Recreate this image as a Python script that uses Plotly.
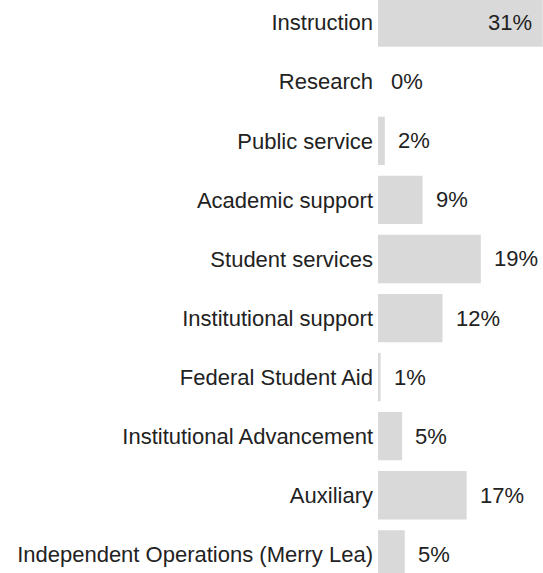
import plotly.graph_objects as go

categories = [
    "Instruction",
    "Research",
    "Public service",
    "Academic support",
    "Student services",
    "Institutional support",
    "Federal Student Aid",
    "Institutional Advancement",
    "Auxiliary",
    "Independent Operations (Merry Lea)",
]
# bar lengths (percent)
shares = [31.4, 0.0, 1.3, 8.5, 19.6, 12.3, 0.5, 4.6, 16.9, 5.1]
# the value labels printed next to the bars
share_labels = ["31%", "0%", "2%", "9%", "19%", "12%", "1%", "5%", "17%", "5%"]

FONT = "Arial, 'Liberation Sans', sans-serif"
TEXT = "#222222"

fig = go.Figure()
fig.add_trace(
    go.Bar(
        x=shares,
        y=categories,
        orientation="h",
        marker=dict(color="#d9d9d9", line=dict(width=0)),
        hoverinfo="skip",
    )
)

# value labels: outside the bar end, except the first which sits inside
for i, (cat, val, lab) in enumerate(zip(categories, shares, share_labels)):
    inside = i == 0
    fig.add_annotation(
        x=val,
        y=cat,
        text=lab,
        showarrow=False,
        xanchor="right" if inside else "left",
        yanchor="middle",
        xshift=-9 if inside else 11,
        font=dict(family=FONT, size=22, color=TEXT),
    )

fig.update_layout(
    width=543,
    height=573,
    margin=dict(l=378, r=0, t=0, b=0, autoexpand=False),
    paper_bgcolor="white",
    plot_bgcolor="white",
    showlegend=False,
    bargap=0.182,
    font=dict(family=FONT, size=22, color=TEXT),
)
fig.update_xaxes(
    range=[0, 31.45],
    visible=False,
    showgrid=False,
    zeroline=False,
    automargin=False,
    fixedrange=True,
)
fig.update_yaxes(
    categoryorder="array",
    categoryarray=categories,
    range=[9.316, -0.384],
    showgrid=False,
    zeroline=False,
    showline=False,
    ticks="",
    automargin=False,
    ticklabelstandoff=4,
    tickfont=dict(family=FONT, size=22, color=TEXT),
    fixedrange=True,
)

# the page body has a default 8px margin; drop it so the chart fills the window
fig.write_html(
    "out.html",
    config={"displayModeBar": False},
    post_script="document.body.style.margin='0';document.body.style.overflow='hidden';",
)
